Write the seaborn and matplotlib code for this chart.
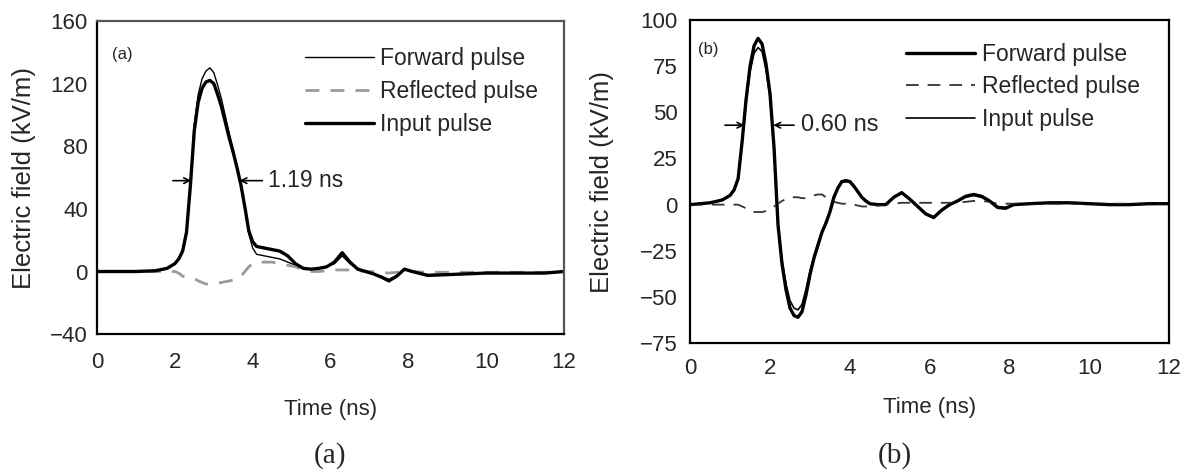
import numpy as np
import pandas as pd
import matplotlib
matplotlib.use("Agg")
import matplotlib.pyplot as plt
import seaborn as sns

# panel (a): ~1.19 ns pulse
time_a = [0, 0.5, 1.0, 1.5, 1.8, 2.0, 2.1, 2.2, 2.3, 2.4, 2.5, 2.6, 2.7, 2.8, 2.9,
          3.0, 3.1, 3.2, 3.3, 3.4, 3.5, 3.6, 3.7, 3.8, 3.9, 4.0, 4.1, 4.3, 4.5, 4.7,
          4.9, 5.1, 5.3, 5.5, 5.7, 5.9, 6.1, 6.3, 6.5, 6.7, 6.9, 7.1, 7.3, 7.5, 7.7,
          7.9, 8.1, 8.5, 9.0, 9.5, 10.0, 10.5, 11.0, 11.5, 12.0]
input_a = [0, 0, 0, 0.5, 2, 5, 8, 13, 25, 55, 90, 108, 117, 121, 122,
           120, 113, 105, 95, 85, 76, 66, 55, 41, 26, 19, 16, 15, 14, 13,
           10, 5, 2, 1.5, 2, 3, 6, 12, 6, 1.5, 0, -1.5, -3.5, -6, -3,
           1.5, 0, -2.5, -2, -1.5, -1, -1, -1, -1, 0]
forward_a = [0, 0, 0, 0.5, 2, 5, 8, 14, 27, 58, 94, 113, 123, 128, 130,
             127, 119, 110, 99, 88, 78, 67, 55, 40, 24, 15, 11, 10, 9, 8,
             6, 4, 2, 1.5, 2, 3, 5, 10, 5, 1.5, 0, -1.5, -3, -5, -2.5,
             1, 0, -2, -1.5, -1.5, -1, -1, -1, -1, 0]
reflected_a = [0, 0, 0, 0, 0, 0, -1, -3, -3.5, -4, -4.5, -6, -7, -8, -8,
               -8, -7.5, -7, -6.5, -6, -5.5, -5, -3, 0, 3, 5, 6, 6, 6, 5,
               4, 3, 1, 0, 0, 0.5, 1, 1, 1, 0.5, 0, 0, -0.5, -1, -0.5,
               0, 0, -0.5, -0.5, -0.5, -0.5, -0.5, -0.5, -0.5, 0]

# panel (b): ~0.60 ns pulse
time_b = [0, 0.5, 0.8, 1.0, 1.1, 1.2, 1.3, 1.4, 1.5, 1.6, 1.7, 1.8, 1.9, 2.0, 2.1,
          2.2, 2.3, 2.4, 2.5, 2.6, 2.7, 2.8, 2.9, 3.0, 3.1, 3.2, 3.3, 3.4, 3.5, 3.6,
          3.7, 3.8, 3.9, 4.0, 4.1, 4.2, 4.3, 4.4, 4.5, 4.7, 4.9, 5.1, 5.3, 5.5, 5.7,
          5.9, 6.1, 6.3, 6.5, 6.7, 6.9, 7.1, 7.3, 7.5, 7.7, 7.9, 8.1, 8.5, 9.0, 9.5,
          10.0, 10.5, 11.0, 11.5, 12.0]
input_b = [0, 1, 2.5, 5, 8, 14, 33, 55, 72, 82, 85, 83, 73, 58, 30,
           -10, -30, -43, -52, -56, -57, -54, -46, -36, -28, -21, -15, -10, -4, 4,
           9, 12, 12.5, 12, 10, 7, 4, 2, 0.5, 0, 0, 4, 6, 3, -1,
           -5, -6.5, -3, 0, 2, 4, 5, 4, 2, -1, -1.5, 0, 0.5, 1, 1,
           0.5, 0, 0, 0.5, 0.5]
forward_b = [0, 1, 2.5, 5, 8, 14, 34, 57, 75, 86, 90, 87, 76, 60, 31,
             -11, -32, -46, -56, -60, -61, -58, -49, -38, -29, -22, -15, -10, -4, 4,
             9, 12.5, 13, 12.5, 10, 7, 4, 2, 0.5, 0, 0, 4, 6.5, 3, -1,
             -5, -7, -3, 0, 2, 4.5, 5.5, 4.5, 2, -1.5, -2, 0, 0.5, 1, 1,
             0.5, 0, 0, 0.5, 0.5]
reflected_b = [0, 0, 0, 0, 0, 0, -1, -2, -3.5, -4, -4, -4, -3.5, -2, -1,
               0.5, 2, 3, 4, 4, 4, 3.5, 3.5, 4, 5, 5.5, 5.5, 4, 3, 1.5,
               1, 0.5, 0.5, 0, 0, -0.5, -1, -1, -1, -0.5, 0, 0.5, 1, 1, 1,
               1, 1, 1, 1, 1, 1.5, 2, 2, 1.5, 0.5, 0.5, 0.5, 0.5, 0.5, 0.5,
               0.5, 0.5, 0.5, 0.5, 0.5]

x_ticks = [0, 2, 4, 6, 8, 10, 12]
y_ticks_a = [-40, 0, 40, 80, 120, 160]
y_ticks_b = [-75, -50, -25, 0, 25, 50, 75, 100]

sns.set_style("white")
plt.rcParams['font.family'] = ['Liberation Sans', 'DejaVu Sans']

fig = plt.figure(figsize=(11.9, 4.74), dpi=100)
ax1 = fig.add_axes([0.0815, 0.295, 0.3925, 0.661])
ax2 = fig.add_axes([0.580, 0.276, 0.4025, 0.682])

# (a)
sns.lineplot(x=time_a, y=forward_a, ax=ax1, color="black", lw=1.0, label="Forward pulse")
sns.lineplot(x=time_a, y=reflected_a, ax=ax1, color="#9a9a9a", lw=2.0, label="Reflected pulse")
ax1.lines[-1].set_dashes((5, 4))
sns.lineplot(x=time_a, y=input_a, ax=ax1, color="black", lw=2.4, label="Input pulse")

# (b)
sns.lineplot(x=time_b, y=forward_b, ax=ax2, color="black", lw=2.4, label="Forward pulse")
sns.lineplot(x=time_b, y=reflected_b, ax=ax2, color="#333333", lw=1.3, label="Reflected pulse")
ax2.lines[-1].set_dashes((7, 5))
sns.lineplot(x=time_b, y=input_b, ax=ax2, color="black", lw=1.2, label="Input pulse")

for ax, yt, col in [(ax1, y_ticks_a, "#555555"), (ax2, y_ticks_b, "black")]:
    ax.set_xlim(0, 12)
    ax.set_ylim(yt[0], yt[-1])
    ax.set_xticks(x_ticks)
    ax.set_yticks(yt)
    ax.tick_params(labelsize=16, width=1.2, color="black")
    ax.tick_params(axis="y", pad=3)
    for s in ax.spines.values():
        s.set_color(col)
        s.set_linewidth(1.6)
    ax.spines['left'].set_color("black")
    ax.spines['bottom'].set_color("black")

ax1.set_xlabel("Time (ns)", fontsize=16, labelpad=19)
ax2.set_xlabel("Time (ns)", fontsize=16, labelpad=12.5)
ax1.set_ylabel("Electric field (kV/m)", fontsize=18.5, labelpad=10)
ax2.set_ylabel("Electric field (kV/m)", fontsize=18.5, labelpad=19)
ax1.tick_params(axis="x", pad=9)
ax2.tick_params(axis="x", pad=5)

ax1.set_yticks([-20, 20, 60, 100, 140], minor=True)
ax1.tick_params(which="both", direction="inout", length=7, width=1.2)
ax1.tick_params(which="minor", length=5)
ax2.tick_params(direction="out", length=6)

leg_kw = dict(loc="upper left", frameon=False, fontsize=16.5, handlelength=3.0,
              handletextpad=0.3, labelspacing=0.42, borderpad=0, borderaxespad=0)
ax1.legend(bbox_to_anchor=(0.445, 0.915), **leg_kw)
ax2.legend(bbox_to_anchor=(0.451, 0.93), **leg_kw)

ax1.text(0.032, 0.893, "(a)", transform=ax1.transAxes, fontsize=12, va="center")
ax2.text(0.017, 0.91, "(b)", transform=ax2.transAxes, fontsize=12, va="center")

# pulse width markers
arr = dict(arrowstyle="->", color="black", lw=1.2, shrinkA=0, shrinkB=0)
ax1.annotate("", xy=(2.42, 58), xytext=(1.95, 58), arrowprops=arr)
ax1.annotate("", xy=(3.66, 58), xytext=(4.25, 58), arrowprops=arr)
ax1.text(4.4, 58, "1.19 ns", fontsize=16.5, va="center")
ax2.annotate("", xy=(1.36, 43), xytext=(0.87, 43), arrowprops=arr)
ax2.annotate("", xy=(2.08, 43), xytext=(2.6, 43), arrowprops=arr)
ax2.text(2.78, 43, "0.60 ns", fontsize=17, va="center")

fig.text(0.277, 0.04, "(a)", fontsize=21, family="Liberation Serif", ha="center", va="center")
fig.text(0.752, 0.04, "(b)", fontsize=21, family="Liberation Serif", ha="center", va="center")

fig.savefig("out.png", dpi=100)
